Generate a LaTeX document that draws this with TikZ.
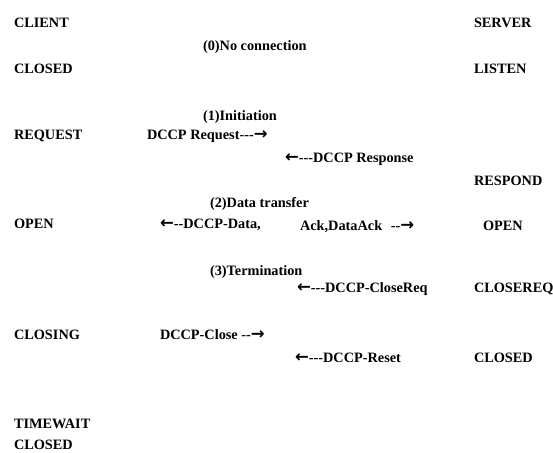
\documentclass[tikz,border=0pt]{standalone}
\usepackage{fontspec}
\setmainfont{Liberation Serif}
\newfontfamily\arrowfont{DejaVu Sans}
% arrow glyphs, a little larger than the text around them
\newcommand{\ra}{{\arrowfont\bfseries\fontsize{16.5}{16}\selectfont →}}
\newcommand{\la}{{\arrowfont\bfseries\fontsize{16.5}{16}\selectfont ←}}
% plain hyphens, kept apart so they do not join into dashes
\newcommand{\hh}{-{}-}
\newcommand{\hhh}{-{}-{}-}
\tikzset{
  lbl/.style={anchor=base west, inner sep=0pt, outer sep=0pt,
              font=\fontsize{14.3}{16}\selectfont\bfseries}
}
\begin{document}
\begin{tikzpicture}[x=1pt,y=-1pt]
  \fill[white] (0,0) rectangle (553,452);
  \useasboundingbox (0,0) rectangle (553,452);

  % column headings
  \node[lbl] (client) at (14,27.5) {CLIENT};
  \node[lbl] (server) at (474,28) {SERVER};

  % phase 0
  \node[lbl] (ph0) at (203,51) {(0)No connection};
  \node[lbl] (cclosed) at (14,74) {CLOSED};
  \node[lbl] (slisten) at (474,74) {LISTEN};

  % phase 1
  \node[lbl] (ph1) at (203,120) {(1)Initiation};
  \node[lbl] (creq) at (14,139) {REQUEST};
  \node[lbl] (mreq) at (147,139) {DCCP Request\hhh\ra};
  \node[lbl] (mresp) at (285,162) {\la\hhh DCCP Response};
  \node[lbl] (sresp) at (474,185) {RESPOND};

  % phase 2
  \node[lbl] (ph2) at (210,207) {(2)Data transfer};
  \node[lbl] (copen) at (14,228.5) {OPEN};
  \node[lbl] (mdata) at (160,228.5) {\la\hh DCCP-Data,};
  \node[lbl] (mack) at (300,230.5) {Ack,DataAck\hspace{0.6em}\hh\ra};
  \node[lbl] (sopen) at (483,230.5) {OPEN};

  % phase 3
  \node[lbl] (ph3) at (210,275) {(3)Termination};
  \node[lbl] (mcreq) at (297,292.5) {\la\hhh DCCP-CloseReq};
  \node[lbl] (screq) at (474,292.5) {CLOSEREQ};
  \node[lbl] (cclosing) at (14,339) {CLOSING};
  \node[lbl] (mclose) at (160,339.5) {DCCP-Close \hh\ra};
  \node[lbl] (mreset) at (295,362.5) {\la\hhh DCCP-Reset};
  \node[lbl] (sclosed) at (474,362.5) {CLOSED};
  \node[lbl] (ctw) at (14,428) {TIMEWAIT};
  \node[lbl] (cfinal) at (14,449) {CLOSED};
\end{tikzpicture}
\end{document}
